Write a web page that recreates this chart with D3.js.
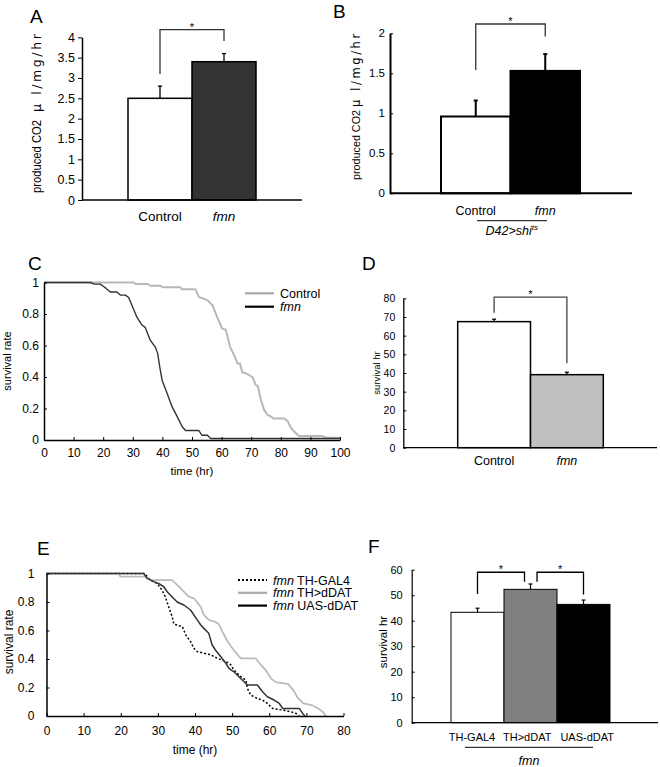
<!DOCTYPE html>
<html><head><meta charset="utf-8">
<script src="https://cdn.jsdelivr.net/npm/d3@7"></script>
<style>
body{margin:0;background:#fff;}
text{font-family:"Liberation Sans",Arial,Helvetica,sans-serif;fill:#000;}
text.wide{font-family:"DejaVu Sans",sans-serif;}
</style></head>
<body><svg id="chart" width="660" height="767"></svg>
<script>
// ---------- DATA ----------
// Panel A
const aCategories = ["Control", "fmn"];
const aValues = [2.5, 3.4];
const aErrors = [0.3, 0.2];
const aTicks = [0, 0.5, 1, 1.5, 2, 2.5, 3, 3.5, 4];
// Panel B
const bCategories = ["Control", "fmn"];
const bValues = [0.96, 1.53];
const bErrors = [0.2, 0.21];
const bTicks = [0, 0.5, 1, 1.5, 2];
// Panel C (survival curves, [time hr, rate])
const cControl = [[0,1],[30.3,1],[31,0.99],[35,0.99],[36,0.98],[39.3,0.98],[40,0.97],[46.1,0.97],[46.5,0.957],[51.2,0.957],[52.3,0.909],[55.2,0.888],[56.9,0.856],[58.5,0.78],[60.2,0.708],[61.4,0.70],[62.9,0.59],[64.2,0.54],[65.4,0.486],[66.2,0.486],[67,0.43],[68.6,0.42],[70.4,0.40],[71.5,0.35],[72.3,0.34],[73.2,0.258],[74.4,0.19],[75.5,0.16],[76.6,0.15],[77.5,0.137],[81.1,0.137],[82.3,0.12],[83.4,0.078],[85.1,0.043],[86.2,0.025],[94.1,0.025],[95.3,0.015],[100,0.015]];
const cFmn = [[0,1],[15.6,1],[17,0.99],[19,0.99],[20.5,0.97],[22.4,0.94],[24.6,0.94],[25.8,0.92],[27.5,0.92],[28.6,0.905],[29.7,0.856],[31.4,0.78],[33.1,0.73],[34.2,0.715],[35.9,0.634],[37.6,0.59],[38.4,0.55],[39.1,0.465],[39.9,0.38],[41.6,0.296],[43.3,0.21],[45,0.148],[46.7,0.084],[47.8,0.06],[52.3,0.06],[53.4,0.03],[55.2,0.03],[56.3,0.01],[100,0.01]];
const cXTicks = [0,10,20,30,40,50,60,70,80,90,100];
const rateTicks = [0,0.2,0.4,0.6,0.8,1];
// Panel D
const dCategories = ["Control", "fmn"];
const dValues = [67.5, 39.1];
const dErrors = [1.3, 1.3];
const dTicks = [0,10,20,30,40,50,60,70,80];
// Panel E
const eThGal4 = [[0,1],[26.4,1],[28,0.954],[29.8,0.93],[31.1,0.884],[32,0.837],[32.9,0.767],[33.8,0.70],[34.3,0.645],[35.6,0.635],[36.6,0.627],[37.5,0.569],[38.8,0.522],[39.7,0.475],[40.6,0.452],[42.4,0.44],[44.2,0.43],[46.0,0.405],[48.3,0.382],[49.6,0.36],[50.5,0.323],[52.3,0.276],[53.7,0.252],[54.1,0.194],[55,0.147],[56.8,0.123],[58.2,0.112],[59.5,0.088],[60.9,0.053],[64,0.04],[65.8,0.03],[67.2,0.018],[68.1,0]];
const eThDdat = [[0,1],[19.5,1],[19.9,0.978],[26.6,0.978],[28,0.954],[33.8,0.954],[35.2,0.92],[37,0.872],[38.3,0.837],[39.7,0.826],[41.5,0.767],[42.4,0.709],[43.7,0.674],[45.5,0.66],[46.4,0.645],[47.4,0.59],[48.7,0.526],[50.5,0.46],[52.3,0.405],[56.3,0.405],[57.7,0.36],[59.2,0.316],[60.6,0.26],[61.9,0.236],[65.1,0.225],[66.5,0.18],[67.8,0.123],[69.2,0.088],[71.4,0.077],[73.2,0.053],[74.4,0.03],[75.3,0]];
const eUasDdat = [[0,1],[26.2,1],[27.1,0.966],[28.9,0.943],[30.2,0.93],[31.6,0.907],[32.5,0.872],[33.8,0.837],[35.2,0.80],[37,0.779],[38.8,0.744],[40.6,0.674],[41.5,0.64],[42.4,0.615],[43.7,0.58],[44.6,0.5],[45.5,0.463],[46.9,0.417],[48.3,0.37],[49.2,0.333],[50.5,0.31],[52.3,0.263],[54.1,0.217],[56.8,0.217],[58.2,0.17],[59.5,0.135],[61.3,0.112],[62.7,0.088],[63.6,0.053],[68.1,0.053],[69,0.018],[69.6,0]];
const eXTicks = [0,10,20,30,40,50,60,70,80];
// Panel F
const fCategories = ["TH-GAL4", "TH>dDAT", "UAS-dDAT"];
const fValues = [43.3, 52.3, 46.4];
const fErrors = [1.6, 2.1, 1.7];
const fTicks = [0,10,20,30,40,50,60];

// ---------- DRAW ----------
const svg = d3.select("#chart");
svg.append("rect").attr("width",660).attr("height",767).attr("fill","#fff");

function letter(t, x, y){
  svg.append("text").attr("x",x).attr("y",y).attr("font-size",19).text(t);
}

function barPanel(o){
  const g = svg.append("g");
  const x = d3.scaleBand().domain(o.cats).range(o.band).padding(0);
  const y = d3.scaleLinear().domain(o.yDomain).range(o.yRange);
  g.selectAll("rect.bar").data(o.cats).join("rect")
    .attr("x", d=>x(d)).attr("width", x.bandwidth())
    .attr("y", (d,i)=>y(o.vals[i])).attr("height",(d,i)=>y(0)-y(o.vals[i]))
    .attr("fill",(d,i)=>o.colors[i]).attr("stroke","#000").attr("stroke-width",o.barStroke);
  o.cats.forEach((c,i)=>{
    const cx = x(c)+x.bandwidth()/2;
    g.append("line").attr("x1",cx).attr("x2",cx).attr("y1",y(o.vals[i])).attr("y2",y(o.vals[i]+o.errs[i]))
      .attr("stroke","#000").attr("stroke-width",o.errStroke);
    g.append("line").attr("x1",cx-2).attr("x2",cx+2).attr("y1",y(o.vals[i]+o.errs[i])).attr("y2",y(o.vals[i]+o.errs[i]))
      .attr("stroke","#000").attr("stroke-width",o.errStroke);
  });
  const ax = d3.axisLeft(y).tickValues(o.ticks).tickSizeInner(o.tickIn).tickSizeOuter(0).tickPadding(o.pad).tickFormat(d=>String(d));
  const ag = g.append("g").attr("transform",`translate(${o.axisX},0)`).call(ax);
  ag.select(".domain").attr("stroke","#000").attr("stroke-width",o.axisStroke);
  ag.selectAll(".tick line").attr("stroke","#000").attr("stroke-width",1);
  ag.selectAll("text").attr("font-size",o.tickFont).attr("fill","#000");
  g.append("line").attr("x1",o.axisX).attr("x2",o.axisEnd).attr("y1",y(0)).attr("y2",y(0))
    .attr("stroke","#000").attr("stroke-width",o.axisStroke);
  o.cats.forEach((c,i)=>{
    g.append("text").attr("x",x(c)+x.bandwidth()/2+(o.labelDx?o.labelDx[i]:0)).attr("y",o.labelY).attr("text-anchor","middle")
      .attr("font-size",o.labelFont).attr("font-style",o.italic[i]?"italic":"normal").text(c);
  });
  (o.brackets||[]).forEach(b=>{
    const xl = x(o.cats[b.l])+x.bandwidth()/2 + (b.dl||0);
    const xr = x(o.cats[b.r])+x.bandwidth()/2 + (b.dr||0);
    g.append("path").attr("d",`M${xl},${y(b.lb)}V${y(b.top)}H${xr}V${y(b.rb)}`)
      .attr("fill","none").attr("stroke",o.bracketColor||"#000").attr("stroke-width",1.3);
    g.append("text").attr("x",(xl+xr)/2).attr("y",y(b.top)+b.starDy).attr("text-anchor","middle")
      .attr("font-size",o.starFont||11).text("*");
  });
  return {g,x,y};
}

function ytitle(t, x, y, size){
  svg.append("text").attr("transform",`translate(${x},${y}) rotate(-90)`)
    .attr("text-anchor","middle").attr("font-size",size).text(t);
}

function co2title(x, yBottom, size, len1, gap, size2, ls){
  svg.append("text").attr("transform",`translate(${x},${yBottom}) rotate(-90)`).attr("font-size",size)
    .attr("textLength",len1).attr("lengthAdjust","spacingAndGlyphs").text("produced CO2");
  svg.append("text").attr("class","wide").attr("transform",`translate(${x},${yBottom-len1-gap}) rotate(-90)`).attr("font-size",size2)
    .attr("letter-spacing",ls).text("μ l/mg/hr");
}

// ---- Panel A ----
letter("A", 30, 23);
barPanel({cats:aCategories, vals:aValues, errs:aErrors, colors:["#fff","#333333"],
  band:[128,256], yDomain:[0,4], yRange:[200,37.3], ticks:aTicks, tickIn:4, pad:3, axisX:82, axisEnd:302,
  axisStroke:1.5, barStroke:1.5, errStroke:1.3, tickFont:12.5, labelFont:13.5, labelY:221, italic:[false,true],
  bracketColor:"#333", brackets:[{l:0,r:1,top:4.19,lb:3.1,rb:3.91,starDy:1}]});
co2title(41, 193, 12.5, 73, 8, 12.5, 2.6);

// ---- Panel B ----
letter("B", 333, 18);
barPanel({cats:bCategories, vals:bValues, errs:bErrors, colors:["#fff","#000"],
  band:[441,580], yDomain:[0,2], yRange:[193.3,33.3], ticks:bTicks, tickIn:-3, pad:5, axisX:390, axisEnd:632,
  axisStroke:2, barStroke:2, errStroke:2, tickFont:11.5, labelFont:12.5, labelY:215, italic:[false,true],
  bracketColor:"#333", brackets:[{l:0,r:1,top:2.116,lb:1.54,rb:1.96,starDy:1}]});
co2title(359.5, 180, 11.5, 70, 3, 11.5, 2.6);
svg.append("line").attr("x1",477).attr("x2",547).attr("y1",220.7).attr("y2",220.7).attr("stroke","#000").attr("stroke-width",1);
{
  const t = svg.append("text").attr("x",511.7).attr("y",235).attr("text-anchor","middle").attr("font-size",12.5).attr("font-style","italic");
  t.append("tspan").text("D42>shi");
  t.append("tspan").attr("font-size",8).attr("dy",-5).text("ts");
}

// ---- survival panel helper ----
function survPanel(o){
  const g = svg.append("g");
  const x = d3.scaleLinear().domain(o.xDomain).range(o.xRange);
  const y = d3.scaleLinear().domain([0,1]).range(o.yRange);
  const line = d3.line().x(d=>x(d[0])).y(d=>y(d[1]));
  o.series.forEach(s=>{
    g.append("path").datum(s.data).attr("d",line).attr("fill","none")
      .attr("stroke",s.color).attr("stroke-width",s.width).attr("stroke-dasharray",s.dash||null)
      .attr("stroke-linejoin","round");
  });
  const ay = d3.axisLeft(y).tickValues(rateTicks).tickSizeInner(-3).tickSizeOuter(0).tickPadding(o.yPad)
    .tickFormat(d=>(d===0||d===1)?String(d):d.toFixed(1));
  const ag = g.append("g").attr("transform",`translate(${x(0)},0)`).call(ay);
  const ax = d3.axisBottom(x).tickValues(o.xTicks).tickSizeInner(-3).tickSizeOuter(0).tickPadding(o.xPad).tickFormat(d=>String(d));
  const bg = g.append("g").attr("transform",`translate(0,${y(0)})`).call(ax);
  [ag,bg].forEach(a=>{
    a.select(".domain").attr("stroke","#000").attr("stroke-width",1.5);
    a.selectAll(".tick line").attr("stroke","#000");
    a.selectAll("text").attr("font-size",o.tickFont).attr("fill","#000");
  });
  g.append("text").attr("x",o.xTitle[0]).attr("y",o.xTitle[1]).attr("text-anchor","middle").attr("font-size",o.xTitleFont).text("time (hr)");
  o.series.forEach((s,i)=>{
    const ly = o.legY + i*o.legStep;
    g.append("line").attr("x1",o.legX).attr("x2",o.legX+29).attr("y1",ly).attr("y2",ly)
      .attr("stroke",s.legColor||s.color).attr("stroke-width",2.2).attr("stroke-dasharray",s.dash||null);
    const t = g.append("text").attr("x",o.legX+35).attr("y",ly+4.5).attr("font-size",12.5);
    s.label.forEach(p=>t.append("tspan").attr("font-style",p[1]?"italic":"normal").text(p[0]));
  });
}

// ---- Panel C ----
letter("C", 28, 270);
survPanel({xDomain:[0,100], xRange:[44,340], yRange:[440,282.5], xTicks:cXTicks, tickFont:12, yPad:5, xPad:8,
  xTitle:[192,475], xTitleFont:11.5, legX:245, legY:293.3, legStep:13.4,
  series:[
    {data:cControl, color:"#b8b8b8", width:2, legColor:"#a8a8a8", label:[["Control",false]]},
    {data:cFmn, color:"#333", width:1.4, legColor:"#000", label:[["fmn",true]]}
  ]});
ytitle("survival rate", 11, 361, 11);

// ---- Panel D ----
letter("D", 362, 270);
barPanel({cats:dCategories, vals:dValues, errs:dErrors, colors:["#fff","#c0c0c0"],
  band:[457.7,603.3], yDomain:[0,80], yRange:[447.7,298.3], ticks:dTicks, tickIn:-3, pad:8, axisX:403.3, axisEnd:657,
  axisStroke:1.3, barStroke:1.5, errStroke:1.3, tickFont:10.5, labelFont:12.5, labelY:465, italic:[false,true],
  bracketColor:"#444", brackets:[{l:0,r:1,top:80.6,lb:72.3,rb:45.2,starDy:1}]});
ytitle("survival hr", 380, 373, 9.5);

// ---- Panel E ----
letter("E", 37, 555);
survPanel({xDomain:[0,80], xRange:[46.5,343.5], yRange:[716,573.5], xTicks:eXTicks, tickFont:12, yPad:12, xPad:10,
  xTitle:[195,754], xTitleFont:12, legX:238, legY:580, legStep:12.8,
  series:[
    {data:eThGal4, color:"#000", width:1.5, dash:"2,2", label:[["fmn",true],[" TH-GAL4",false]]},
    {data:eThDdat, color:"#bbbbbb", width:1.8, legColor:"#aaaaaa", label:[["fmn",true],[" TH>dDAT",false]]},
    {data:eUasDdat, color:"#333", width:1.5, legColor:"#000", label:[["fmn",true],[" UAS-dDAT",false]]}
  ]});
ytitle("survival rate", 13, 642, 12);

// ---- Panel F ----
letter("F", 368, 553);
barPanel({cats:fCategories, vals:fValues, errs:fErrors, colors:["#fff","#808080","#000"],
  band:[451,610], yDomain:[0,60], yRange:[722.7,569.7], ticks:fTicks, tickIn:-3, pad:9, axisX:411.7, axisEnd:658,
  axisStroke:1.2, barStroke:1, errStroke:1.2, tickFont:11, labelFont:11, labelY:741, labelDx:[-5.5,-3.3,3.7], italic:[false,false,false],
  bracketColor:"#000", brackets:[
    {l:0,r:1,top:59,lb:50.5,rb:55.3,dr:-6,starDy:1},
    {l:1,r:2,top:59,lb:55.3,rb:50.3,dl:6.5,starDy:1}]});
ytitle("survival hr", 387, 642, 11.5);
svg.append("line").attr("x1",465).attr("x2",593).attr("y1",747.3).attr("y2",747.3).attr("stroke","#000").attr("stroke-width",1);
svg.append("text").attr("x",529).attr("y",765).attr("text-anchor","middle").attr("font-size",12.5).attr("font-style","italic").text("fmn");
</script></body></html>
